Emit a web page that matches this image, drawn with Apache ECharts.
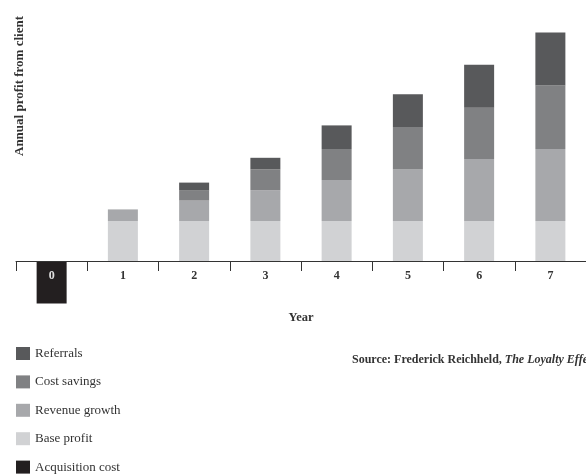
<!DOCTYPE html>
<html>
<head>
<meta charset="utf-8">
<script src="https://cdn.jsdelivr.net/npm/echarts@6/dist/echarts.min.js"></script>
<style>
html,body{margin:0;padding:0;background:#fff;}
#c{width:586px;height:475px;}
</style>
</head>
<body>
<div id="c"></div>
<script>
var years = ['0', '1', '2', '3', '4', '5', '6', '7'];
var acquisitionCost = [-10.6, null, null, null, null, null, null, null];
var baseProfit = [null, 10, 10, 10, 10, 10, 10, 10];
var revenueGrowth = [null, 2.9, 5.1, 7.7, 10.25, 12.9, 15.5, 18];
var costSavings = [null, null, 2.5, 5.2, 7.75, 10.6, 12.8, 15.9];
var referrals = [null, null, 2, 2.9, 5.9, 8.2, 10.75, 13.25];
var legendOrder = ['Referrals', 'Cost savings', 'Revenue growth', 'Base profit', 'Acquisition cost'];

var serif = '"Liberation Serif", "DejaVu Serif", serif';
var chart = echarts.init(document.getElementById('c'), null, {renderer: 'canvas'});

function bar(name, data, color) {
  return {
    name: name, type: 'bar', stack: 'total', data: data, barWidth: 30, clip: false,
    itemStyle: {color: color}
  };
}

chart.setOption({
  animation: false,
  backgroundColor: '#fff',
  grid: {left: 16, width: 576, top: 21, height: 240},
  legend: {
    orient: 'vertical', left: 11, top: 342, height: 133,
    itemWidth: 14, itemHeight: 13, itemGap: 15.4,
    icon: 'rect',
    data: legendOrder,
    textStyle: {fontFamily: serif, fontSize: 13, color: '#333'},
    selectedMode: false
  },
  xAxis: {
    type: 'category', data: years, z: 5,
    axisLine: {show: true, lineStyle: {color: '#333', width: 1}},
    axisTick: {show: true, length: 10, lineStyle: {color: '#333', width: 1}},
    axisLabel: {
      fontFamily: serif, fontSize: 12, fontWeight: 'bold', color: '#333', margin: 9,
      formatter: function (v) { return v === '0' ? '{w|0}' : v; },
      rich: {w: {color: '#e0e0e0', fontFamily: serif, fontSize: 12, fontWeight: 'bold'}}
    },
    name: 'Year', nameLocation: 'middle', nameGap: 50,
    nameTextStyle: {fontFamily: serif, fontSize: 12.5, fontWeight: 'bold', color: '#333'}
  },
  yAxis: {
    type: 'value', min: 0, max: 60, show: false,
    splitLine: {show: false}
  },
  graphic: [
    {
      type: 'text', x: 20, y: 86, rotation: Math.PI / 2,
      style: {
        text: 'Annual profit from client', fill: '#333',
        font: 'bold 13px ' + serif, align: 'center', verticalAlign: 'middle'
      }
    },
    {
      type: 'text', x: 352, y: 360,
      style: {
        text: '{a|Source: Frederick Reichheld, }{b|The Loyalty Effect}',
        verticalAlign: 'middle',
        rich: {
          a: {fontFamily: serif, fontSize: 12, fontWeight: 'bold', fill: '#333'},
          b: {fontFamily: serif, fontSize: 12, fontWeight: 'bold', fontStyle: 'italic', fill: '#333'}
        }
      }
    }
  ],
  series: [
    bar('Acquisition cost', acquisitionCost, '#231f20'),
    bar('Base profit', baseProfit, '#d1d2d4'),
    bar('Revenue growth', revenueGrowth, '#a7a8ab'),
    bar('Cost savings', costSavings, '#808183'),
    bar('Referrals', referrals, '#58595b')
  ]
});
</script>
</body>
</html>
